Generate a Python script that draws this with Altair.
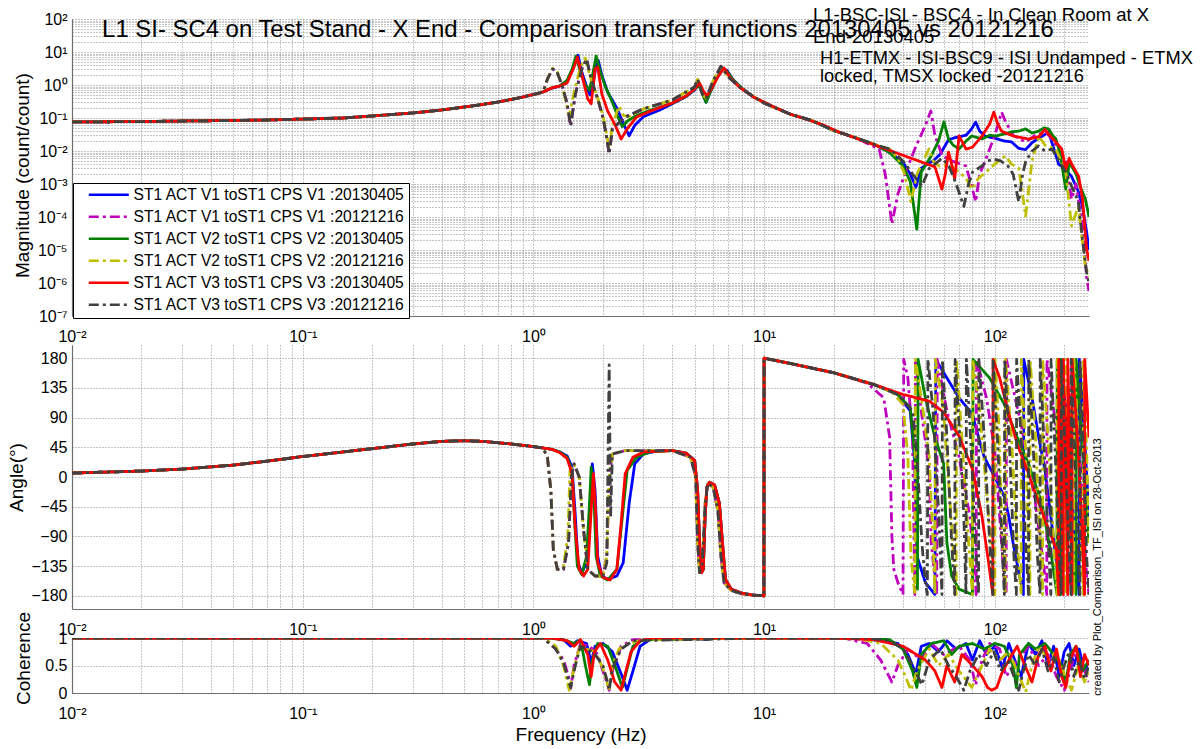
import altair as alt
import pandas as pd

FONT = "Liberation Sans"
GRID = "#8c8c8c"
AXIS_COLOR = "#6e6e6e"

SERIES = [
    "ST1 ACT V1 toST1 CPS V1 :20130405",
    "ST1 ACT V1 toST1 CPS V1 :20121216",
    "ST1 ACT V2 toST1 CPS V2 :20130405",
    "ST1 ACT V2 toST1 CPS V2 :20121216",
    "ST1 ACT V3 toST1 CPS V3 :20130405",
    "ST1 ACT V3 toST1 CPS V3 :20121216",
]
COLORS = ["#0000ff", "#bf00bf", "#008000", "#bfbf00", "#ff0000", "#404040"]
DASHES = [[1, 0], [10, 4, 3, 4], [1, 0], [10, 4, 3, 4], [1, 0], [10, 4, 3, 4]]

TITLE = "L1 SI- SC4 on Test Stand - X End - Comparison transfer functions 20130405 vs 20121216"
NOTE_L1 = ["L1-BSC-ISI - BSC4 - In Clean Room at X", "End-20130405"]
NOTE_H1 = ["H1-ETMX - ISI-BSC9 - ISI Undamped - ETMX", "locked, TMSX locked -20121216"]
CREDIT = "created by Plot_Comparison_TF_ISI on 28-Oct-2013"

# ---- low-frequency part, common to all six measurements ----
f_low = [0.01, 0.02, 0.03, 0.05, 0.07, 0.1, 0.15, 0.2, 0.3, 0.4, 0.5, 0.6, 0.7, 0.8, 0.9, 1.0, 1.1]
mag_low = [0.076, 0.078, 0.081, 0.084, 0.087, 0.093, 0.100, 0.115, 0.142, 0.175, 0.215, 0.256,
           0.305, 0.364, 0.433, 0.515, 0.613]
phase_low = [6, 9, 12, 18, 24, 31, 38, 43, 50, 54, 55, 54, 52, 50, 48, 46, 44]
coh_low = [1, 1, 1, 1, 1, 1, 1, 1, 1, 1, 1, 1, 1, 1, 1, 1, 1]

# ---- magnitude above 1.1 Hz ----
mag_f_v1_0405 = [1.2, 1.3, 1.4, 1.47, 1.52, 1.56, 1.62, 1.7, 1.76, 1.82, 1.87, 1.91, 1.98, 2.1, 2.3, 2.45,
                 2.6, 2.75, 3.0, 3.5, 4.0, 4.6, 5.0, 5.2, 5.4, 5.6, 5.8, 6.2, 6.6, 6.9, 7.3, 8.0, 9.0, 10.8,
                 13, 16, 20, 25, 30, 35, 40, 43, 45.5, 48, 51, 54, 58, 63, 68, 75, 79, 82.6, 86, 91, 101,
                 110, 118, 127, 136, 145, 155, 163, 171, 180, 189, 200, 215, 230, 240, 250, 256]
mag_v1_0405 = [0.8, 0.93, 1.3, 2.6, 5.0, 8.0, 2.5, 0.9, 0.5, 1.2, 4.0, 5.5, 2.0, 0.6, 0.2, 0.07,
               0.029, 0.06, 0.11, 0.17, 0.27, 0.45, 0.72, 1.05, 0.6, 0.3, 0.55, 1.5, 3.0, 2.8, 1.5, 0.8,
               0.43, 0.23, 0.13, 0.085, 0.042, 0.025, 0.016, 0.009, 0.0045, 0.002, 0.0008, 0.003, 0.004,
               0.005, 0.008, 0.022, 0.026, 0.03, 0.045, 0.075, 0.04, 0.028, 0.024, 0.02, 0.019, 0.012,
               0.011, 0.018, 0.024, 0.03, 0.038, 0.012, 0.004, 0.003, 0.0017, 0.0006, 0.0002, 3.5e-5, 1e-5]

mag_f_v2_0405 = [1.2, 1.3, 1.4, 1.47, 1.53, 1.6, 1.68, 1.75, 1.8, 1.87, 1.95, 2.05, 2.2, 2.35, 2.43, 2.55,
                 2.8, 3.2, 4.0, 4.6, 5.0, 5.2, 5.4, 5.6, 5.8, 6.2, 6.6, 6.9, 7.3, 8.0, 9.0, 10.8, 13, 16,
                 20, 25, 30, 35, 40, 43, 45.9, 48, 53, 57, 60.2, 63, 66, 70, 75, 79.5, 88, 95, 101, 110,
                 118, 127, 136, 145, 155, 163, 171, 178, 184, 192, 203, 210, 215, 225, 235, 247, 256]
mag_v2_0405 = [0.82, 0.95, 1.4, 3.0, 7.5, 2.5, 1.0, 0.7, 1.8, 7.5, 2.5, 0.9, 0.3, 0.09, 0.055, 0.08,
               0.12, 0.17, 0.28, 0.46, 0.75, 1.0, 0.55, 0.3, 0.55, 1.5, 3.2, 2.6, 1.5, 0.8, 0.43, 0.23,
               0.13, 0.085, 0.042, 0.025, 0.016, 0.009, 0.0035, 0.0012, 4.3e-5, 0.0023, 0.0071, 0.02,
               0.076, 0.023, 0.015, 0.0115, 0.02, 0.0285, 0.0233, 0.03, 0.0285, 0.033, 0.038, 0.04,
               0.047, 0.035, 0.04, 0.05, 0.047, 0.03, 0.0233, 0.008, 0.0007, 0.004, 0.0035, 0.002,
               0.0008, 0.00035, 0.0001]

mag_f_v3_0405 = [1.2, 1.3, 1.4, 1.5, 1.55, 1.62, 1.72, 1.78, 1.85, 1.9, 1.98, 2.1, 2.25, 2.4, 2.55, 2.8,
                 3.2, 4.0, 4.6, 5.0, 5.25, 5.45, 5.65, 5.9, 6.3, 6.7, 7.1, 7.8, 9.0, 10.8, 13, 15.2, 18,
                 21, 55, 59, 61, 63, 65, 67, 70, 75, 80, 88, 95, 99, 103, 107, 120, 140, 155, 165, 170,
                 184, 195, 203, 210, 215, 231, 240, 250, 256]
mag_v3_0405 = [0.81, 0.93, 1.15, 3.5, 7.0, 2.1, 0.38, 0.27, 3.05, 3.5, 0.53, 0.16, 0.066, 0.023, 0.047,
               0.107, 0.16, 0.285, 0.47, 0.76, 1.15, 0.66, 0.47, 0.76, 1.74, 3.3, 1.74, 0.87, 0.43, 0.23,
               0.13, 0.093, 0.062, 0.038, 0.0033, 0.0007, 0.002, 0.0093, 0.004, 0.0014, 0.0285, 0.0115,
               0.013, 0.0285, 0.066, 0.15, 0.066, 0.04, 0.0285, 0.023, 0.027, 0.045, 0.034, 0.0186,
               0.0115, 0.0028, 0.006, 0.0041, 0.0017, 0.00035, 1.07e-5, 4.7e-6]

mag_f_v1_1216 = [1.15, 1.21, 1.26, 1.33, 1.4, 1.45, 1.52, 1.62, 1.7, 1.78, 1.9, 2.0, 2.07, 2.13, 2.2, 2.5,
                 3.0, 4.0, 5.0, 5.15, 5.4, 5.6, 6.0, 6.5, 7.0, 8.0, 10, 13, 16, 20, 25, 28, 31.5, 33.5,
                 35.8, 38, 40, 45, 50, 52.8, 55, 59.2, 65, 74.9, 79, 82.6, 86, 91.5, 100, 107, 111, 120,
                 136, 150, 166, 180, 190, 203, 215, 225, 240, 250, 256]
mag_v1_1216 = [1.5, 3.0, 2.7, 1.0, 0.27, 0.058, 0.53, 3.05, 6.1, 1.5, 0.38, 0.107, 0.03, 0.0081, 0.047,
               0.107, 0.19, 0.35, 0.87, 1.5, 0.53, 0.38, 1.3, 3.7, 1.74, 0.76, 0.28, 0.13, 0.085, 0.042,
               0.025, 0.017, 0.0115, 0.002, 6.2e-5, 0.0005, 0.0014, 0.0115, 0.06, 0.163, 0.03, 0.0071,
               0.005, 0.0035, 0.001, 0.00029, 0.002, 0.0057, 0.03, 0.15, 0.081, 0.03, 0.0186, 0.03,
               0.038, 0.02, 0.01, 0.0047, 0.00035, 0.001, 5e-5, 1.5e-6, 5.7e-7]

mag_f_v2_1216 = [1.15, 1.21, 1.27, 1.34, 1.43, 1.5, 1.6, 1.68, 1.76, 1.9, 2.0, 2.08, 2.13, 2.2, 2.3, 2.35,
                 2.45, 2.6, 3.0, 4.0, 5.0, 5.15, 5.4, 5.6, 6.0, 6.5, 7.0, 8.0, 10, 13, 16, 20, 25, 30, 35,
                 38, 40.4, 43.3, 46, 51.8, 54, 57.2, 63, 69.9, 75, 79.5, 85, 91.5, 100, 111, 118, 127,
                 136, 145, 155, 165, 184, 203, 215, 230, 247, 256]
mag_v2_1216 = [1.5, 3.2, 2.5, 0.8, 0.115, 0.6, 3.5, 6.5, 1.8, 0.4, 0.12, 0.03, 0.012, 0.06, 0.15, 0.23,
               0.12, 0.11, 0.19, 0.35, 0.87, 1.5, 0.53, 0.4, 1.3, 3.7, 1.74, 0.76, 0.28, 0.13, 0.085,
               0.042, 0.025, 0.016, 0.0115, 0.006, 0.0023, 0.00029, 0.002, 0.0115, 0.005, 0.0035, 0.004,
               0.0023, 0.0015, 0.0007, 0.0015, 0.0023, 0.004, 0.0071, 0.004, 0.003, 0.000107, 0.005,
               0.0285, 0.015, 0.0115, 0.0023, 5.4e-5, 0.0002, 3.3e-6, 1.5e-6]

mag_f_v3_1216 = [1.15, 1.21, 1.26, 1.33, 1.4, 1.45, 1.52, 1.62, 1.7, 1.78, 1.9, 2.0, 2.07, 2.13, 2.2, 2.5,
                 3.0, 4.0, 5.0, 5.15, 5.4, 5.6, 6.0, 6.5, 7.0, 8.0, 10, 13, 16, 20, 25, 30, 35, 40, 44,
                 48.3, 52, 55, 59, 63.2, 68, 73.4, 77, 80, 87.9, 93, 99, 106, 114, 120, 127, 132, 136,
                 145, 155, 165, 177, 190, 203, 215, 230, 240, 250, 256]
mag_v3_1216 = [1.5, 3.05, 2.7, 1.0, 0.27, 0.058, 0.53, 3.05, 6.1, 1.5, 0.38, 0.107, 0.03, 0.0081, 0.047,
               0.107, 0.19, 0.35, 0.87, 1.5, 0.53, 0.38, 1.3, 3.7, 1.74, 0.76, 0.28, 0.13, 0.085, 0.042,
               0.025, 0.016, 0.0115, 0.005, 0.002, 0.00087, 0.003, 0.004, 0.006, 0.0035, 0.001, 0.00021,
               0.001, 0.0023, 0.0035, 0.005, 0.0057, 0.005, 0.0035, 0.002, 0.00029, 0.002, 0.0047, 0.01,
               0.0142, 0.01, 0.0115, 0.005, 0.0023, 0.00087, 0.0003, 2e-5, 2.1e-6, 1e-6]

# ---- phase above 1.1 Hz (degrees, wrapped to +/-180) ----
ph_f_v1_0405 = [1.2, 1.3, 1.4, 1.47, 1.52, 1.56, 1.62, 1.7, 1.76, 1.8, 1.85, 1.9, 1.98, 2.1, 2.3, 2.45,
                2.6, 2.75, 3.0, 3.5, 4.0, 4.6, 5.0, 5.15, 5.25, 5.35, 5.45, 5.55, 5.65, 5.8, 6.1, 6.4,
                6.6, 6.8, 7.2, 8.0, 9.0, 9.98, 10.0, 13, 20, 30, 38, 43, 45, 46, 50, 55, 55.5, 62, 70,
                80, 85, 90, 100, 110, 115, 120, 128, 133, 133.5, 145, 155, 165, 175, 185, 192, 192.5,
                205, 215, 225, 232, 232.5, 245, 256]
ph_v1_0405 = [42, 38, 32, 15, -60, -130, -145, -130, -50, 20, -20, -120, -150, -155, -150, -130,
              -40, 20, 35, 40, 40, 36, 25, -20, -100, -145, -140, -60, -15, -8, -12, -40,
              -100, -155, -170, -176, -179, -180, 180, 172, 158, 140, 125, 100, 20, -120, -160, -178,
              178, 150, 120, 95, 60, 30, 0, -30, -60, -100, -150, -178, 178, 120, 60, 10, -60, -130,
              -178, 178, 90, -20, -120, -178, 178, 60, -60]

ph_f_v2_0405 = [1.2, 1.3, 1.4, 1.47, 1.51, 1.55, 1.62, 1.7, 1.75, 1.78, 1.83, 1.87, 1.95, 2.1, 2.3, 2.43,
                2.55, 2.8, 3.2, 4.0, 4.6, 5.0, 5.15, 5.25, 5.35, 5.45, 5.55, 5.65, 5.8, 6.1, 6.4, 6.6,
                6.8, 7.2, 8.0, 9.0, 9.98, 10.0, 13, 20, 30, 38, 43, 45.9, 46.2, 46.5, 50, 55, 60, 62, 65,
                70, 80, 80.5, 95, 110, 125, 140, 160, 176, 186, 186.3, 190, 193, 193.3, 200, 215, 225,
                225.3, 240, 256]
ph_v2_0405 = [42, 38, 30, 10, -70, -135, -148, -120, -40, 15, -30, -120, -150, -156, -140, -60,
              10, 30, 38, 40, 36, 25, -20, -100, -145, -140, -60, -15, -8, -12, -40, -100,
              -155, -170, -176, -179, -180, 180, 172, 158, 140, 125, 105, 0, -170, 178, 120, 60, 20,
              -100, -150, -170, -178, 178, 150, 110, 60, 20, -40, -120, -178, 178, 60, -178, 178, 40,
              -100, -178, 178, 40, -100]

ph_f_v3_0405 = [1.2, 1.3, 1.4, 1.47, 1.52, 1.58, 1.65, 1.72, 1.78, 1.82, 1.86, 1.9, 2.0, 2.15, 2.3, 2.4,
                2.5, 2.7, 3.0, 4.0, 4.6, 5.0, 5.15, 5.25, 5.35, 5.45, 5.55, 5.65, 5.8, 6.1, 6.4, 6.6,
                6.8, 7.2, 8.0, 9.0, 9.98, 10.0, 13, 20, 30, 40, 52, 60, 70, 80, 88, 94, 98, 98.3, 105,
                115, 125, 140, 150, 165, 185, 189, 189.3, 194, 198, 198.3, 203, 207, 207.3, 212, 216,
                216.3, 230, 240, 245, 245.3, 256]
ph_v3_0405 = [42, 37, 28, 5, -80, -140, -150, -140, -50, 5, -50, -130, -152, -156, -140, -70,
              5, 30, 38, 40, 36, 25, -20, -100, -145, -140, -60, -15, -8, -12, -40, -100,
              -155, -170, -176, -179, -180, 180, 172, 158, 140, 125, 115, 98, 62, 12, -60, -130, -178,
              178, 150, 95, 50, 5, -25, -65, -110, -178, 178, 30, -178, 178, 20, -178, 178, 10, -178,
              178, 40, -100, -178, 178, 60]

ph_f_v1_1216 = [1.15, 1.19, 1.22, 1.27, 1.35, 1.42, 1.46, 1.5, 1.58, 1.65, 1.72, 1.85, 2.0, 2.08, 2.13,
                2.2, 2.5, 3.0, 4.0, 4.8, 5.05, 5.15, 5.25, 5.4, 5.55, 5.7, 6.0, 6.3, 6.5, 6.7, 7.2, 8.0,
                9.0, 9.98, 10.0, 13, 20, 28, 33, 35, 35.8, 36.5, 38, 40, 40.3, 42, 44, 45, 45.3, 48, 52,
                53, 56, 56.3, 62, 70, 78, 82, 83, 83.3, 92, 100, 105, 110, 112, 112.3, 130, 150, 165,
                168, 168.3, 190, 205, 215, 215.3, 235, 250, 256]
ph_v1_1216 = [30, -20, -110, -140, -140, -100, 0, 20, 0, -80, -140, -150, -150, -120, 0,
              35, 40, 40, 40, 30, 0, -100, -145, -130, -40, -10, -15, -50, -120, -160, -172, -177,
              -179, -180, 180, 172, 158, 142, 120, 60, -90, -140, -160, -178, 178, 150, 60, -178, 178,
              100, 10, -100, -178, 178, 100, 30, -60, -150, -178, 178, 120, 40, -60, -160, -178, 178,
              80, -40, -150, -178, 178, 40, -100, -178, 178, 20, -150, -178]

ph_f_v2_1216 = [1.15, 1.19, 1.22, 1.27, 1.35, 1.41, 1.44, 1.5, 1.58, 1.65, 1.72, 1.85, 2.0, 2.08, 2.13,
                2.2, 2.5, 3.0, 4.0, 4.8, 5.05, 5.15, 5.25, 5.4, 5.55, 5.7, 6.0, 6.3, 6.5, 6.7, 7.2, 8.0,
                9.0, 9.98, 10.0, 13, 20, 30, 36, 40, 42, 43.3, 45, 45.3, 48, 52, 54, 55, 55.3, 60, 64,
                68, 68.3, 72, 77, 80, 80.3, 86, 93, 100, 100.3, 104, 108, 111, 111.3, 118, 125, 130,
                130.3, 136, 142, 142.3, 150, 158, 161, 161.3, 170, 180, 186, 186.3, 195, 203, 203.3,
                212, 220, 220.3, 230, 238, 242, 242.3, 250, 256]
ph_v2_1216 = [30, -20, -110, -140, -135, -90, 10, 20, 0, -80, -140, -150, -150, -120, 0,
              35, 40, 40, 40, 30, 0, -100, -145, -130, -40, -10, -15, -50, -120, -160, -172, -177,
              -179, -180, 180, 172, 158, 140, 128, 110, 30, -120, -178, 178, 120, 30, -100, -178, 178,
              100, -40, -178, 178, 60, -100, -178, 178, 100, -40, -178, 178, 80, -100, -178, 178,
              60, -100, -178, 178, 40, -178, 178, 60, -120, -178, 178, 60, -100, -178, 178, 50,
              -178, 178, 80, -178, 178, 60, -120, -178, 178, 40, -100]

ph_f_v3_1216 = [1.15, 1.19, 1.22, 1.27, 1.35, 1.42, 1.46, 1.5, 1.58, 1.65, 1.72, 1.85, 2.0, 2.08, 2.13,
                2.16, 2.2, 2.5, 3.0, 4.0, 4.8, 5.05, 5.15, 5.25, 5.4, 5.55, 5.7, 6.0, 6.3, 6.5, 6.7,
                7.2, 8.0, 9.0, 9.98, 10.0, 13, 20, 30, 38, 44, 46, 48.3, 50, 51, 51.3, 54, 57, 59, 59.3,
                62, 65, 67, 67.3, 70, 73.4, 75, 75.3, 79, 83, 85, 85.3, 90, 95, 98, 98.3, 103, 108, 110,
                110.3, 116, 121, 124, 124.3, 130, 136, 140, 140.3, 147, 153, 157, 157.3, 164, 171, 175,
                175.3, 183, 190, 194, 194.3, 202, 209, 214, 214.3, 222, 230, 234, 234.3, 243, 250, 256]
ph_v3_1216 = [30, -20, -110, -140, -140, -100, 0, 20, 0, -80, -140, -150, -150, -130, 170,
              -60, 35, 40, 40, 40, 30, 0, -100, -145, -130, -40, -10, -15, -50, -120, -160,
              -172, -177, -179, -180, 180, 172, 158, 140, 125, 100, 30, -100, -160, -178, 178, 100,
              -50, -178, 178, 60, -100, -178, 178, 80, -60, -178, 178, 40, -120, -178, 178, 60, -100,
              -178, 178, 50, -120, -178, 178, 40, -120, -178, 178, 60, -100, -178, 178, 40, -120,
              -178, 178, 40, -110, -178, 178, 30, -120, -178, 178, 40, -100, -178, 178, 30, -120,
              -178, 178, 20, -120, -178]

# ---- coherence above 1.1 Hz ----
coh_f_v1_0405 = [1.2, 1.35, 1.45, 1.55, 1.7, 1.78, 1.85, 2.0, 2.2, 2.4, 2.55, 2.7, 2.9, 3.2, 5, 5.6, 6,
                 10, 20, 28, 32, 38, 42, 45.5, 48, 52, 57, 62, 68, 75, 80, 86, 92, 100, 108, 115, 122,
                 130, 140, 150, 160, 170, 180, 190, 200, 210, 220, 232, 245, 256]
coh_v1_0405 = [1, 0.97, 0.85, 0.95, 0.9, 0.55, 0.85, 0.9, 0.75, 0.35, 0.05, 0.4, 0.85, 0.97, 1, 0.97,
               1, 1, 1, 0.98, 0.95, 0.9, 0.7, 0.35, 0.85, 0.9, 0.75, 0.95, 0.8, 0.9, 0.6, 0.95, 0.7,
               0.85, 0.45, 0.9, 0.6, 0.3, 0.9, 0.7, 0.95, 0.5, 0.85, 0.3, 0.75, 0.9, 0.5, 0.8, 0.4, 0.6]

coh_f_v2_0405 = [1.2, 1.4, 1.5, 1.6, 1.68, 1.75, 1.8, 1.9, 2.1, 2.3, 2.43, 2.55, 2.7, 3.0, 10, 25, 35,
                 40, 44, 45.9, 48, 53, 60, 65, 70, 80, 90, 100, 110, 120, 124, 128, 140, 150, 165, 180,
                 195, 203, 212, 225, 240, 256]
coh_v2_0405 = [1, 0.95, 0.9, 0.97, 0.5, 0.15, 0.6, 0.9, 0.85, 0.4, 0.1, 0.45, 0.85, 0.97, 1, 1, 0.97,
               0.8, 0.4, 0.1, 0.7, 0.9, 0.95, 0.7, 0.85, 0.9, 0.8, 0.9, 0.85, 0.5, 0.1, 0.7, 0.9, 0.8,
               0.9, 0.7, 0.5, 0.15, 0.7, 0.85, 0.4, 0.6]

coh_f_v3_0405 = [1.2, 1.4, 1.5, 1.6, 1.72, 1.78, 1.84, 1.95, 2.1, 2.25, 2.4, 2.5, 2.65, 2.9, 3.3, 10, 20,
                 30, 40, 50, 55, 59, 62, 67, 72, 80, 88, 93, 97, 102, 107, 115, 125, 135, 145, 155, 165,
                 175, 185, 195, 203, 212, 225, 235, 245, 256]
coh_v3_0405 = [1, 0.95, 0.85, 0.97, 0.7, 0.3, 0.75, 0.9, 0.6, 0.2, 0.05, 0.35, 0.75, 0.95, 1, 1, 1,
               0.97, 0.85, 0.6, 0.4, 0.1, 0.5, 0.2, 0.7, 0.5, 0.3, 0.1, 0.05, 0.1, 0.35, 0.6, 0.85, 0.5,
               0.2, 0.7, 0.85, 0.4, 0.8, 0.3, 0.1, 0.6, 0.85, 0.3, 0.7, 0.5]

coh_f_v1_1216 = [1.15, 1.25, 1.35, 1.42, 1.45, 1.5, 1.6, 1.75, 1.9, 2.0, 2.1, 2.13, 2.2, 2.4, 2.7, 10,
                 22, 28, 32, 35.8, 38, 42, 48, 53, 60, 70, 78, 82.6, 88, 95, 105, 112, 125, 140, 155,
                 170, 185, 200, 212, 225, 240, 256]
coh_v1_1216 = [0.95, 0.8, 0.6, 0.3, 0.08, 0.5, 0.9, 0.85, 0.7, 0.4, 0.15, 0.05, 0.4, 0.85, 0.97, 1,
               1, 0.9, 0.6, 0.2, 0.5, 0.8, 0.6, 0.9, 0.7, 0.85, 0.6, 0.15, 0.6, 0.9, 0.8, 0.3, 0.6,
               0.85, 0.5, 0.7, 0.3, 0.05, 0.4, 0.8, 0.5, 0.2]

coh_f_v2_1216 = [1.15, 1.25, 1.35, 1.43, 1.5, 1.6, 1.7, 1.85, 2.0, 2.08, 2.13, 2.2, 2.35, 2.6, 3.0, 10,
                 25, 32, 38, 41, 43.3, 46, 52, 57, 63, 70, 79.5, 88, 95, 105, 115, 125, 136, 145, 155,
                 170, 185, 200, 215, 230, 245, 256]
coh_v2_1216 = [0.95, 0.85, 0.5, 0.05, 0.45, 0.9, 0.8, 0.75, 0.45, 0.2, 0.08, 0.5, 0.8, 0.9, 0.97, 1,
               1, 0.9, 0.6, 0.3, 0.05, 0.4, 0.8, 0.5, 0.7, 0.4, 0.1, 0.5, 0.8, 0.6, 0.75, 0.4, 0.02,
               0.5, 0.85, 0.6, 0.75, 0.35, 0.05, 0.5, 0.2, 0.4]

coh_f_v3_1216 = [1.15, 1.25, 1.35, 1.45, 1.52, 1.6, 1.72, 1.85, 2.0, 2.08, 2.13, 2.2, 2.4, 2.7, 10, 28,
                 35, 40, 44, 48.3, 52, 58, 63, 68, 73.4, 78, 85, 92, 99, 106, 114, 121, 127, 133, 140,
                 150, 160, 170, 180, 190, 200, 210, 220, 232, 245, 256]
coh_v3_1216 = [0.93, 0.8, 0.55, 0.1, 0.5, 0.85, 0.8, 0.7, 0.5, 0.25, 0.05, 0.45, 0.8, 0.95, 1, 1,
               0.95, 0.8, 0.5, 0.15, 0.6, 0.8, 0.5, 0.3, 0.05, 0.4, 0.7, 0.5, 0.75, 0.4, 0.6, 0.3,
               0.05, 0.4, 0.7, 0.5, 0.8, 0.4, 0.65, 0.2, 0.5, 0.75, 0.3, 0.6, 0.25, 0.5]


def table(low_f, low_v, parts):
    rows = []
    for name, fs, vs in parts:
        for k, (f, v) in enumerate(zip(low_f + fs, low_v + vs)):
            rows.append({"series": name, "f": f, "v": v, "k": k})
    return pd.DataFrame(rows)


mag_df = table(f_low, mag_low, [
    (SERIES[0], mag_f_v1_0405, mag_v1_0405), (SERIES[1], mag_f_v1_1216, mag_v1_1216),
    (SERIES[2], mag_f_v2_0405, mag_v2_0405), (SERIES[3], mag_f_v2_1216, mag_v2_1216),
    (SERIES[4], mag_f_v3_0405, mag_v3_0405), (SERIES[5], mag_f_v3_1216, mag_v3_1216)])
phase_df = table(f_low, phase_low, [
    (SERIES[0], ph_f_v1_0405, ph_v1_0405), (SERIES[1], ph_f_v1_1216, ph_v1_1216),
    (SERIES[2], ph_f_v2_0405, ph_v2_0405), (SERIES[3], ph_f_v2_1216, ph_v2_1216),
    (SERIES[4], ph_f_v3_0405, ph_v3_0405), (SERIES[5], ph_f_v3_1216, ph_v3_1216)])
coh_df = table(f_low, coh_low, [
    (SERIES[0], coh_f_v1_0405, coh_v1_0405), (SERIES[1], coh_f_v1_1216, coh_v1_1216),
    (SERIES[2], coh_f_v2_0405, coh_v2_0405), (SERIES[3], coh_f_v2_1216, coh_v2_1216),
    (SERIES[4], coh_f_v3_0405, coh_v3_0405), (SERIES[5], coh_f_v3_1216, coh_v3_1216)])

# ---- axes ----
X_TICKS = [m * 10.0 ** e for e in range(-2, 3) for m in range(1, 10) if m * 10.0 ** e <= 256]
MAG_TICKS = [m * 10.0 ** e for e in range(-7, 2) for m in range(1, 10)] + [100.0]
PHASE_TICKS = [-180, -135, -90, -45, 0, 45, 90, 135, 180]
COH_TICKS = [0, 0.5, 1]

LOG10 = "(log(datum.value)/LN10)"
DECADE_LABEL = (
    f"abs({LOG10} - round({LOG10})) < 0.001 ? "
    f"'10' + (round({LOG10}) < 0 ? '\u207b' : '') + "
    "['\u2070','\u00b9','\u00b2','\u00b3','\u2074','\u2075','\u2076','\u2077','\u2078','\u2079']"
    f"[abs(round({LOG10}))] : ''"
)

AX = dict(labelFont=FONT, labelFontSize=16, labelColor="black", domainColor=AXIS_COLOR,
          domainWidth=1.2, ticks=False, grid=True, gridColor=GRID, gridDash=[1, 2], gridWidth=1,
          labelFlush=False, labelOverlap=False)
TITLE_AX = dict(titleFont=FONT, titleFontSize=19, titleFontWeight="normal", titleColor="black")

x_scale = alt.Scale(type="log", domain=[0.01, 256], nice=False)


def x_enc(axis_title=None):
    if axis_title:
        axis = alt.Axis(values=X_TICKS, labelExpr=DECADE_LABEL, labelPadding=12, title=axis_title,
                        titleY=47, titleBaseline="alphabetic", **TITLE_AX, **AX)
    else:
        axis = alt.Axis(values=X_TICKS, labelExpr=DECADE_LABEL, labelPadding=12, title=None, **AX)
    return alt.X("f:Q", scale=x_scale, axis=axis)


def series_lines(df, y, legend):
    return alt.Chart(df).mark_line(strokeWidth=2.8, clip=True, strokeJoin="round").encode(
        x=y[0],
        y=y[1],
        color=alt.Color("series:N", scale=alt.Scale(domain=SERIES, range=COLORS), legend=legend),
        strokeDash=alt.StrokeDash("series:N", scale=alt.Scale(domain=SERIES, range=DASHES),
                                  legend=legend),
        order="k:Q",
    )


legend = alt.Legend(
    title=None, orient="none", legendX=1, legendY=164, direction="vertical",
    labelFont=FONT, labelFontSize=15.6, labelColor="black", labelLimit=400,
    symbolType="M-4,0H4", symbolSize=100, symbolStrokeWidth=2.5, symbolOffset=24, labelOffset=17,
    padding=4, rowPadding=5, strokeColor="black", fillColor="white", cornerRadius=0,
)

mag_lines = series_lines(mag_df, (
    x_enc(),
    alt.Y("v:Q", scale=alt.Scale(type="log", domain=[1e-7, 100], nice=False),
          axis=alt.Axis(values=MAG_TICKS, labelExpr=DECADE_LABEL, labelPadding=5,
                        title="Magnitude (count/count)", titleX=-50, titleY=156,
                        titleAlign="center", titleBaseline="middle", **TITLE_AX, **AX)),
), legend)

phase_lines = series_lines(phase_df, (
    x_enc(),
    alt.Y("v:Q", scale=alt.Scale(domain=[-200, 200], nice=False),
          axis=alt.Axis(values=PHASE_TICKS, labelPadding=5, title="Angle(\u00b0)", titleX=-56,
                        titleY=132, titleAlign="center", titleBaseline="middle", **TITLE_AX, **AX)),
), None)

coh_lines = series_lines(coh_df, (
    x_enc("Frequency (Hz)"),
    alt.Y("v:Q", scale=alt.Scale(domain=[0, 1], nice=False),
          axis=alt.Axis(values=COH_TICKS, format=".1~f", labelPadding=5, title="Coherence",
                        titleX=-49, titleY=20, titleAlign="center", titleBaseline="middle",
                        **TITLE_AX, **AX)),
), None)

one_row = pd.DataFrame({"k": [0]})
title_mark = alt.Chart(one_row).mark_text(
    text=TITLE, font=FONT, fontSize=23.9, color="black", align="center", baseline="alphabetic"
).encode(x=alt.value(506), y=alt.value(18))
note_l1 = alt.Chart(one_row).mark_text(
    text=NOTE_L1, font=FONT, fontSize=18.5, color="black", align="left", baseline="alphabetic",
    lineHeight=22
).encode(x=alt.value(741), y=alt.value(2))
note_h1 = alt.Chart(one_row).mark_text(
    text=NOTE_H1, font=FONT, fontSize=18.3, color="black", align="left", baseline="alphabetic",
    lineHeight=18
).encode(x=alt.value(748), y=alt.value(45))
credit = alt.Chart(one_row).mark_text(
    text=CREDIT, font=FONT, fontSize=11, color="black", angle=270, align="center", baseline="middle"
).encode(x=alt.value(1026), y=alt.value(222))

top = alt.layer(mag_lines, title_mark, note_l1, note_h1).properties(width=1017, height=297)
mid = alt.layer(phase_lines, credit).properties(width=1017, height=264)
bot = coh_lines.properties(width=1017, height=55)

chart = (
    alt.vconcat(top, mid, bot, spacing=29, bounds="flush")
    .resolve_scale(color="independent", strokeDash="independent")
    .properties(padding={"left": 7, "top": 6, "right": 5, "bottom": 4}, background="white")
    .configure(font=FONT)
    .configure_view(strokeWidth=0)
)

chart.save("out.html", embed_options={"renderer": "svg", "actions": False})
